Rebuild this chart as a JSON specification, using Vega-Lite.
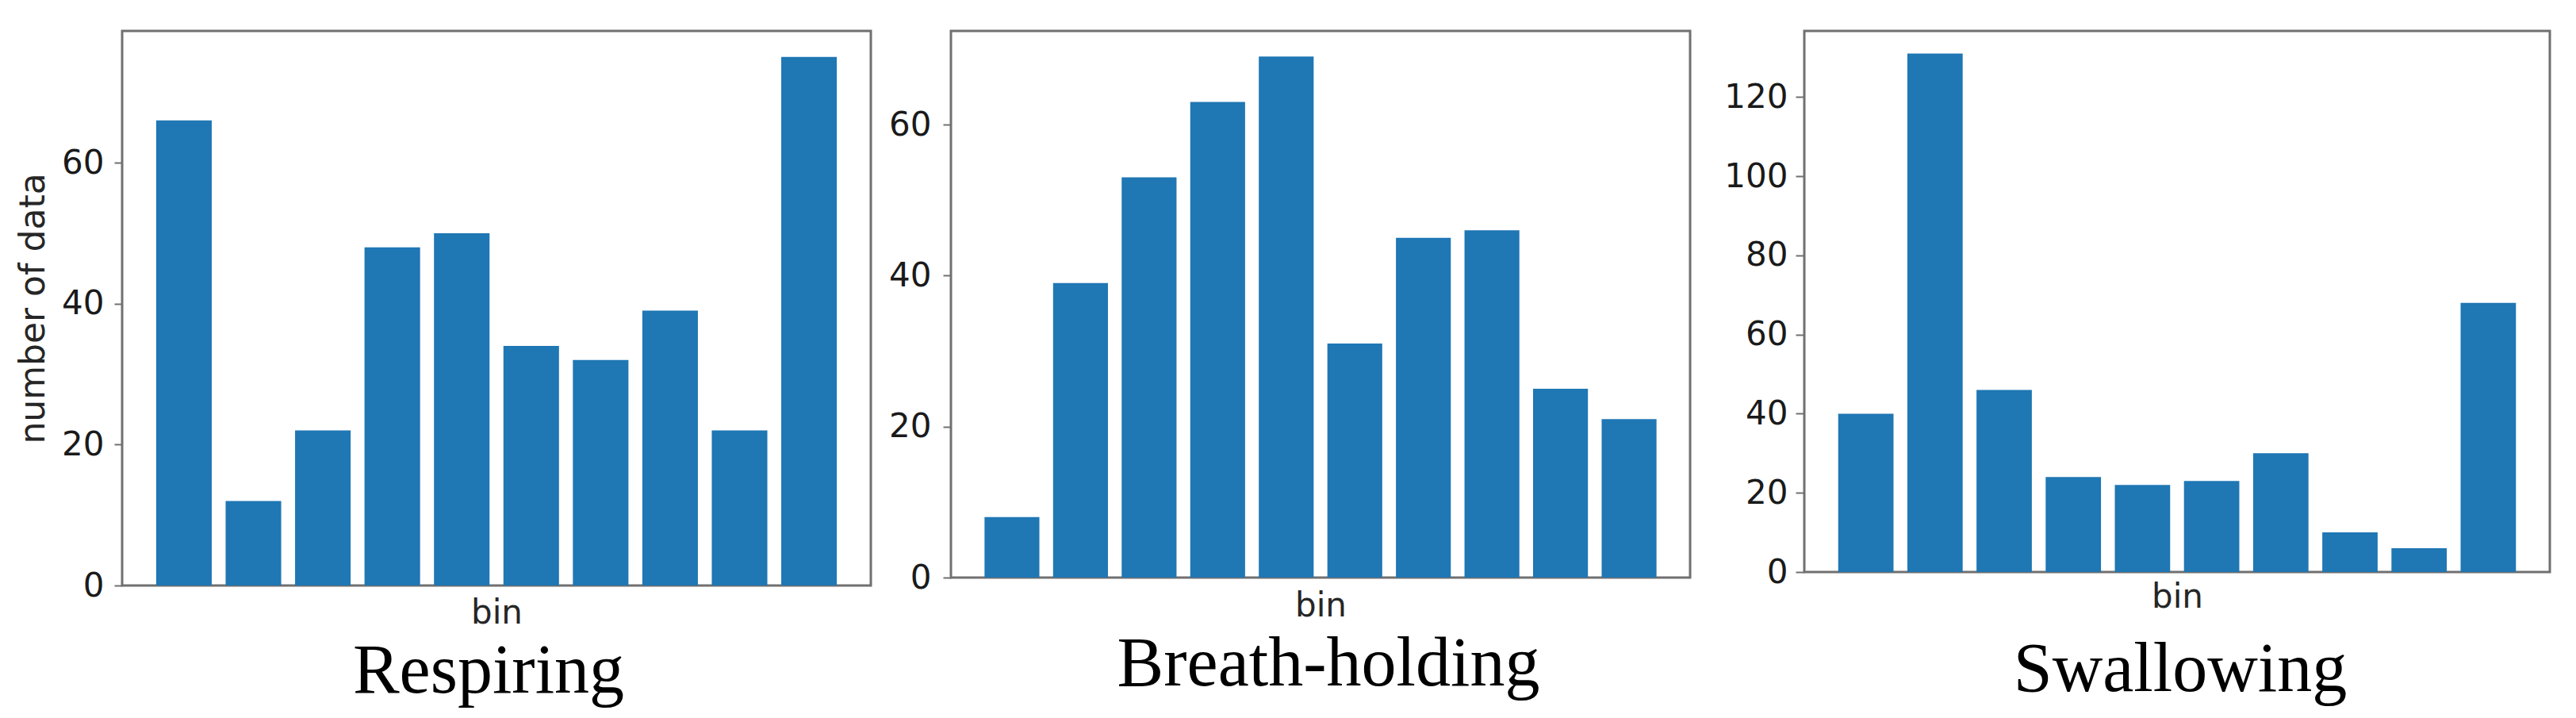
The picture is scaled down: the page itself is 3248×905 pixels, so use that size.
{
  "$schema": "https://vega.github.io/schema/vega-lite/v6.json",
  "background": "white",
  "padding": {"left": 18, "top": 37, "right": 5, "bottom": 5},
  "data": {
    "values": [
      {"panel": "Respiring", "bin_index": 1, "count": 66},
      {"panel": "Respiring", "bin_index": 2, "count": 12},
      {"panel": "Respiring", "bin_index": 3, "count": 22},
      {"panel": "Respiring", "bin_index": 4, "count": 48},
      {"panel": "Respiring", "bin_index": 5, "count": 50},
      {"panel": "Respiring", "bin_index": 6, "count": 34},
      {"panel": "Respiring", "bin_index": 7, "count": 32},
      {"panel": "Respiring", "bin_index": 8, "count": 39},
      {"panel": "Respiring", "bin_index": 9, "count": 22},
      {"panel": "Respiring", "bin_index": 10, "count": 75},
      {"panel": "Breath-holding", "bin_index": 1, "count": 8},
      {"panel": "Breath-holding", "bin_index": 2, "count": 39},
      {"panel": "Breath-holding", "bin_index": 3, "count": 53},
      {"panel": "Breath-holding", "bin_index": 4, "count": 63},
      {"panel": "Breath-holding", "bin_index": 5, "count": 69},
      {"panel": "Breath-holding", "bin_index": 6, "count": 31},
      {"panel": "Breath-holding", "bin_index": 7, "count": 45},
      {"panel": "Breath-holding", "bin_index": 8, "count": 46},
      {"panel": "Breath-holding", "bin_index": 9, "count": 25},
      {"panel": "Breath-holding", "bin_index": 10, "count": 21},
      {"panel": "Swallowing", "bin_index": 1, "count": 40},
      {"panel": "Swallowing", "bin_index": 2, "count": 131},
      {"panel": "Swallowing", "bin_index": 3, "count": 46},
      {"panel": "Swallowing", "bin_index": 4, "count": 24},
      {"panel": "Swallowing", "bin_index": 5, "count": 22},
      {"panel": "Swallowing", "bin_index": 6, "count": 23},
      {"panel": "Swallowing", "bin_index": 7, "count": 30},
      {"panel": "Swallowing", "bin_index": 8, "count": 10},
      {"panel": "Swallowing", "bin_index": 9, "count": 6},
      {"panel": "Swallowing", "bin_index": 10, "count": 68}
    ]
  },
  "spacing": 17,
  "hconcat": [
    {
      "width": 944,
      "height": 699,
      "transform": [{"filter": "datum.panel === 'Respiring'"}],
      "mark": {"type": "bar", "color": "#1f77b4"},
      "encoding": {
        "x": {
          "field": "bin_index", "type": "ordinal",
          "scale": {"paddingInner": 0.2, "paddingOuter": 0.49},
          "axis": {"labels": false, "ticks": false, "domain": false, "title": "bin", "titlePadding": 14, "titleFontSize": 42}
        },
        "y": {
          "field": "count", "type": "quantitative",
          "scale": {"domain": [0, 78.7], "nice": false, "zero": true},
          "axis": {"values": [0, 20, 40, 60], "title": "number of data", "domain": false, "tickSize": 10, "labelPadding": 13, "minExtent": 80, "maxExtent": 80, "titlePadding": 10}
        }
      },
      "title": {"text": "Respiring", "orient": "bottom", "font": "Liberation Serif", "fontSize": 88, "fontWeight": "normal", "color": "#000000", "offset": 10, "dx": -10}
    },
    {
      "width": 932,
      "height": 689,
      "transform": [{"filter": "datum.panel === 'Breath-holding'"}],
      "mark": {"type": "bar", "color": "#1f77b4"},
      "encoding": {
        "x": {
          "field": "bin_index", "type": "ordinal",
          "scale": {"paddingInner": 0.2, "paddingOuter": 0.49},
          "axis": {"labels": false, "ticks": false, "domain": false, "title": "bin", "titlePadding": 15, "titleFontSize": 42}
        },
        "y": {
          "field": "count", "type": "quantitative",
          "scale": {"domain": [0, 72.4], "nice": false, "zero": true},
          "axis": {"values": [0, 20, 40, 60], "title": null, "domain": false, "tickSize": 10, "labelPadding": 15, "minExtent": 80, "maxExtent": 80}
        }
      },
      "title": {"text": "Breath-holding", "orient": "bottom", "font": "Liberation Serif", "fontSize": 88, "fontWeight": "normal", "color": "#000000", "offset": 10, "dx": 10}
    },
    {
      "width": 940,
      "height": 682,
      "transform": [{"filter": "datum.panel === 'Swallowing'"}],
      "mark": {"type": "bar", "color": "#1f77b4"},
      "encoding": {
        "x": {
          "field": "bin_index", "type": "ordinal",
          "scale": {"paddingInner": 0.2, "paddingOuter": 0.49},
          "axis": {"labels": false, "ticks": false, "domain": false, "title": "bin", "titlePadding": 11, "titleFontSize": 42}
        },
        "y": {
          "field": "count", "type": "quantitative",
          "scale": {"domain": [0, 136.7], "nice": false, "zero": true},
          "axis": {"values": [0, 20, 40, 60, 80, 100, 120], "title": null, "domain": false, "tickSize": 11, "labelPadding": 10, "minExtent": 123, "maxExtent": 123}
        }
      },
      "title": {"text": "Swallowing", "orient": "bottom", "font": "Liberation Serif", "fontSize": 88, "fontWeight": "normal", "color": "#000000", "offset": 28, "dx": 4}
    }
  ],
  "config": {
    "view": {"stroke": "#707070", "strokeWidth": 3},
    "axis": {
      "grid": false,
      "labelFont": "DejaVu Sans",
      "titleFont": "DejaVu Sans",
      "labelFontSize": 42,
      "titleFontSize": 44,
      "titleFontWeight": "normal",
      "labelColor": "#1a1a1a",
      "titleColor": "#262626",
      "tickColor": "#707070",
      "tickWidth": 2
    }
  }
}
